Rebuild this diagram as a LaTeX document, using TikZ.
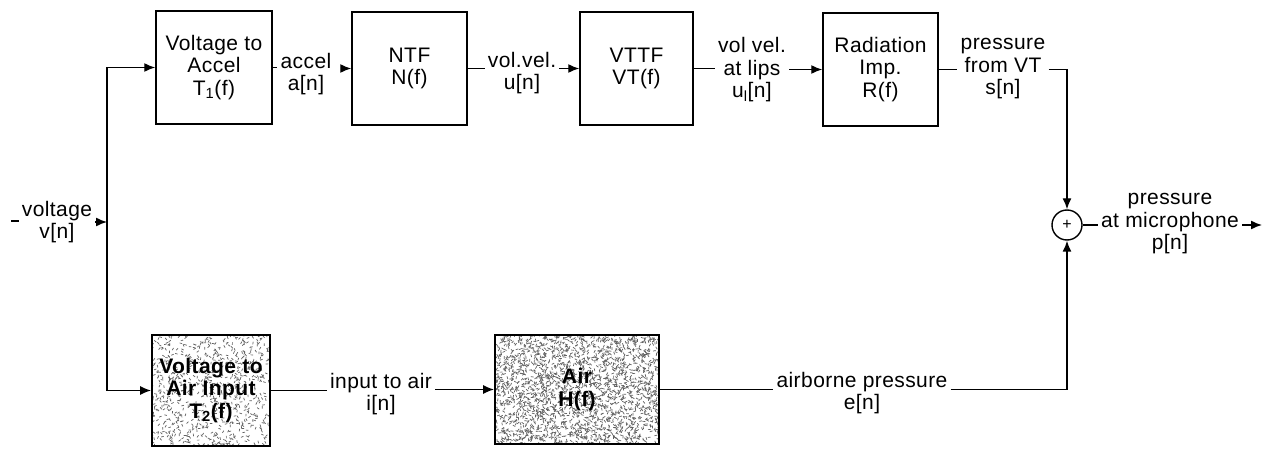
\documentclass[tikz,border=0pt]{standalone}
\usepackage{fontspec}
\setmainfont{Liberation Sans}[LetterSpace=2.0]
\usetikzlibrary{arrows.meta}
\begin{document}
\begin{tikzpicture}[x=1pt,y=-1pt,
  every node/.style={font=\fontsize{21}{22.5}\selectfont, align=center, inner xsep=3pt, inner ysep=0pt},
  blk/.style={draw, line width=1.5pt, minimum width=#1, minimum height=113pt, inner sep=0pt},
  nblk/.style={draw, line width=1.8pt, inner sep=0pt, font=\fontsize{21}{22.5}\selectfont\bfseries},
  lbl/.style={},
  ln/.style={line width=1.4pt},
  arr/.style={line width=1.4pt, -{Latex[length=11pt,width=9pt]}},
  noise/.style={line width=0.7pt, black!62},
  sumnode/.style={circle, draw, line width=1.4pt, minimum size=30pt, inner sep=0pt, font=\fontsize{16}{16}\selectfont}
]
\useasboundingbox (0,0) rectangle (1270,449);

% noise textures of the shaded blocks
\pgfmathsetseed{7}
\begin{scope}
\clip (152,335) rectangle (270,446);
\foreach \i in {1,...,800}{
  \pgfmathsetmacro{\px}{152+118*rnd}
  \pgfmathsetmacro{\py}{335+111*rnd}
  \pgfmathsetmacro{\pa}{360*rnd}
  \draw[noise] (\px,\py) -- ++(\pa:2.6);
}
\end{scope}
\begin{scope}
\clip (495,335) rectangle (659,444);
\foreach \i in {1,...,2300}{
  \pgfmathsetmacro{\px}{495+164*rnd}
  \pgfmathsetmacro{\py}{335+109*rnd}
  \pgfmathsetmacro{\pa}{360*rnd}
  \draw[noise] (\px,\py) -- ++(\pa:2.8);
}
\end{scope}

% top row blocks
\node[blk=116pt] (b1) at (214,67.5) {Voltage to\\Accel\\T\textsubscript{1}(f)};
\node[blk=115pt] (b2) at (409.5,68.5) {NTF\\N(f)};
\node[blk=113pt] (b3) at (636.5,68.5) {VTTF\\VT(f)};
\node[blk=115pt] (b4) at (880.5,69.5) {Radiation\\Imp.\\R(f)};

% bottom row blocks
\node[nblk, minimum width=118pt, minimum height=111pt] (t2) at (211,390.5) {Voltage to\\Air Input\\T\textsubscript{2}(f)};
\node[nblk, minimum width=164pt, minimum height=109pt] (air) at (577,389.5) {Air\\H(f)};

% summing junction
\node[sumnode] (sum) at (1067,225) {+};

% labels
\node[lbl] (la) at (306,74) {accel\\a[n]};
\node[lbl] (lu) at (522,73) {vol.vel.\\u[n]};
\node[lbl] (ll) at (752,70) {vol vel.\\at lips\\u\textsubscript{l}[n]};
\node[lbl] (lp) at (1003,69) {pressure\\from VT\\s[n]};
\node[lbl] (lout) at (1170,224) {pressure\\at microphone\\p[n]};
\node[lbl] (lv) at (57,222) {voltage\\v[n]};
\node[lbl] (li) at (381,394) {input to air\\i[n]};
\node[lbl] (le) at (862,393) {airborne pressure\\e[n]};

% coordinates
\coordinate (vj) at (107,222);
\coordinate (vin) at (11,221);
\coordinate (out) at (1262,225);

% input
\draw[ln] (vin) -- (lv.west |- vin);
\draw[arr] (lv.east |- vj) -- (vj);
\draw[arr] (vj) |- (b1.west);
\draw[arr] (vj) |- (t2.west);

% top row
\draw[ln] (b1.east) -- (b1.east -| la.west);
\draw[arr, shorten <=10pt] (la.east |- b2.west) -- (b2.west);
\draw[ln] (b2.east) -- (b2.east -| lu.west);
\draw[arr] (lu.east |- b3.west) -- (b3.west);
\draw[ln] (b3.east) -- (b3.east -| ll.west);
\draw[arr] (ll.east |- b4.west) -- (b4.west);
\draw[ln] (b4.east) -- (b4.east -| lp.west);
\draw[arr] (lp.east |- b4.east) -| (sum.north);

% bottom row
\draw[ln] (t2.east) -- (t2.east -| li.west);
\draw[arr] (li.east |- air.west) -- (air.west);
\draw[ln] (air.east) -- (air.east -| le.west);
\draw[arr] (le.east |- air.east) -| (sum.south);

% output
\draw[ln] (sum.east) -- (sum.east -| lout.west);
\draw[arr] (lout.east |- sum.east) -- (out);
\end{tikzpicture}
\end{document}
